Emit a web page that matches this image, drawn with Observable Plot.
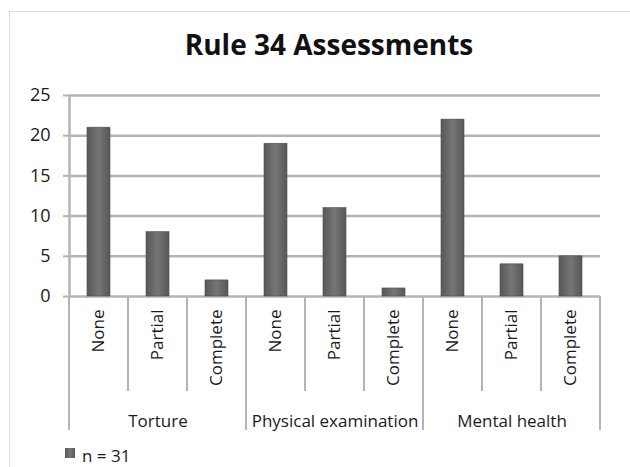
<!DOCTYPE html>
<html>
<head>
<meta charset="utf-8">
<script src="https://cdn.jsdelivr.net/npm/d3@7"></script>
<script src="https://cdn.jsdelivr.net/npm/@observablehq/plot@0.6"></script>
<style>
  html, body { margin: 0; padding: 0; background: #fff; }
  body { width: 630px; height: 467px; position: relative; overflow: hidden; font-family: "Open Sans", sans-serif; }
  #frame { position: absolute; left: 9px; top: 11px; width: 700px; height: 520px; border: 1px solid #dcdcdc; box-sizing: border-box; }
  #title { position: absolute; left: 0; top: 30px; width: 658px; text-align: center; font-size: 28px; line-height: 1; font-weight: 700; color: #111; }
  #chart { position: absolute; left: 0; top: 75px; }
  #legend { position: absolute; left: 65px; top: 447px; font-size: 17px; line-height: 1; color: #1a1a1a; display: flex; align-items: flex-start; }
  #legend .sw { width: 10px; height: 10px; background: linear-gradient(90deg, #585858, #777, #585858); margin-right: 7px; margin-top: 1px; }
</style>
</head>
<body>
<div id="frame"></div>
<div id="title">Rule 34 Assessments</div>
<div id="chart"></div>
<div id="legend"><div class="sw"></div><span>n = 31</span></div>
<script>
const groups = ["Torture", "Physical examination", "Mental health"];
const levels = ["None", "Partial", "Complete"];
const torture = [21, 8, 2];
const physical = [19, 11, 1];
const mental = [22, 4, 5];
const yTicks = [0, 5, 10, 15, 20, 25];

const series = [torture, physical, mental];
const rows = groups.flatMap((g, gi) => levels.map((l, li) => ({group: g, level: l, value: series[gi][li], i: gi * levels.length + li})));
const n = rows.length;
const bounds = d3.range(0, n + 1).map(b => ({b, isGroup: b % levels.length === 0}));
const groupRows = groups.map((g, gi) => ({group: g, c: gi * levels.length + levels.length / 2}));

const grid = "#b4b4b4";

// separators between categories, drawn below the zero line using the plot's scales
function separators(index, scales, values, dimensions) {
  const g = d3.create("svg:g").attr("stroke", grid).attr("stroke-width", 2);
  const y0 = scales.y(0);
  const bottom = dimensions.height - dimensions.marginBottom;
  g.selectAll("line").data(bounds).join("line")
    .attr("x1", d => scales.x(d.b)).attr("x2", d => scales.x(d.b))
    .attr("y1", y0)
    .attr("y2", d => d.isGroup ? bottom : bottom - 39);
  return g.node();
}

const plot = Plot.plot({
  width: 630,
  height: 365,
  marginLeft: 69,
  marginRight: 30,
  marginTop: 20,
  marginBottom: 10,
  style: {fontFamily: "Open Sans", fontSize: "17px", color: "#1a1a1a", background: "transparent", overflow: "visible"},
  x: {domain: [0, n], range: [69, 600], axis: null},
  y: {domain: [0, 25], range: [221, 20], axis: null},
  marks: [
    Plot.ruleY(yTicks, {stroke: grid, strokeWidth: 2.5}),
    Plot.ruleX([0], {y1: 0, y2: 25, stroke: grid, strokeWidth: 2.5}),
    Plot.axisY(yTicks, {label: null, tickSize: 6, tickPadding: 13, fontSize: 18, stroke: grid, strokeWidth: 2, fill: "#1a1a1a"}),
    separators,
    Plot.rect(rows, {x1: d => d.i, x2: d => d.i + 1, y1: 0, y2: "value", insetLeft: 18, insetRight: 18, fill: "url(#barGrad)", stroke: "#4e4e4e", strokeWidth: 0.6}),
    Plot.text(rows, {x: d => d.i + 0.5, y: 0, text: "level", rotate: -90, textAnchor: "end", lineAnchor: "middle", dy: 13, fontSize: 17, fill: "#1a1a1a"}),
    Plot.text(groupRows, {x: "c", text: "group", frameAnchor: "bottom", lineAnchor: "bottom", dy: -4, fontSize: 17, fill: "#1a1a1a"})
  ]
});

const svg = d3.select(plot);
const defs = svg.insert("defs", ":first-child");
const grad = defs.append("linearGradient").attr("id", "barGrad").attr("x1", "0%").attr("x2", "100%").attr("y1", "0%").attr("y2", "0%");
grad.append("stop").attr("offset", "0%").attr("stop-color", "#575757");
grad.append("stop").attr("offset", "50%").attr("stop-color", "#767676");
grad.append("stop").attr("offset", "100%").attr("stop-color", "#575757");

document.getElementById("chart").appendChild(plot);
</script>
</body>
</html>
